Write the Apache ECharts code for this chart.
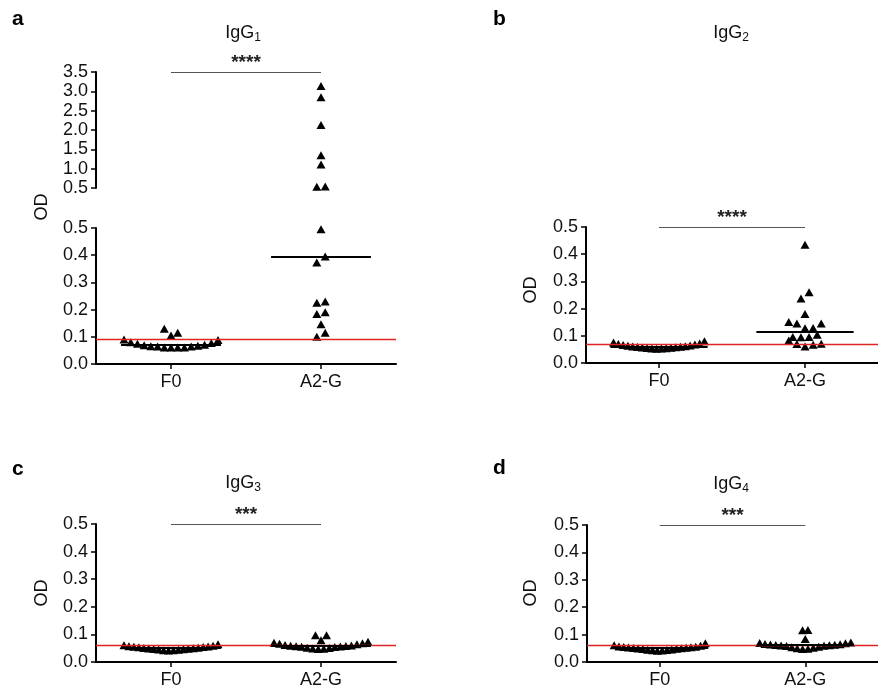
<!DOCTYPE html>
<html>
<head>
    <meta charset="utf-8">
    <script src="https://cdn.jsdelivr.net/npm/echarts@6/dist/echarts.min.js"></script>
</head>
<body style="margin:0">
<div id="main" style="width:878px;height:690px"></div>
<script type="text/javascript">
    // groups on the x axis
    var groups = ['F0', 'A2-G'];

    // OD per animal (order does not matter, they get sorted)
    var igg1F0 = [0.09, 0.08, 0.074, 0.069, 0.065, 0.064, 0.061, 0.061, 0.061, 0.061, 0.064, 0.067, 0.071, 0.077, 0.088, 0.115, 0.105, 0.13];
    var igg1A2G = [0.10, 0.115, 0.146, 0.184, 0.19, 0.23, 0.225, 0.373, 0.395, 0.495, 0.53, 0.54, 1.11, 1.35, 2.13, 2.85, 3.14];
    var igg2F0 = [0.052, 0.053, 0.053, 0.054, 0.055, 0.056, 0.057, 0.058, 0.059, 0.06, 0.061, 0.062, 0.063, 0.064, 0.066, 0.068, 0.07, 0.072, 0.075, 0.08];
    var igg2A2G = [0.061, 0.067, 0.07, 0.071, 0.083, 0.095, 0.096, 0.096, 0.104, 0.128, 0.129, 0.145, 0.145, 0.151, 0.18, 0.237, 0.26, 0.435];
    var igg3F0 = [0.042, 0.043, 0.043, 0.044, 0.045, 0.046, 0.047, 0.048, 0.049, 0.05, 0.051, 0.052, 0.053, 0.054, 0.055, 0.056, 0.057, 0.059, 0.061, 0.064];
    var igg3A2G = [0.047, 0.048, 0.049, 0.051, 0.052, 0.054, 0.055, 0.056, 0.057, 0.058, 0.059, 0.06, 0.062, 0.064, 0.066, 0.068, 0.07, 0.073, 0.079, 0.097, 0.097];
    var igg4F0 = [0.041, 0.042, 0.043, 0.044, 0.045, 0.046, 0.047, 0.048, 0.049, 0.05, 0.051, 0.052, 0.053, 0.054, 0.055, 0.056, 0.057, 0.059, 0.061, 0.068];
    var igg4A2G = [0.047, 0.048, 0.05, 0.052, 0.054, 0.056, 0.058, 0.059, 0.06, 0.061, 0.062, 0.063, 0.064, 0.065, 0.066, 0.068, 0.069, 0.071, 0.084, 0.116, 0.117];

    var cutoffs = [0.09, 0.07, 0.06, 0.06];     // red cut-off lines
    var stars = ['****', '****', '***', '***'];
    var subclass = ['1', '2', '3', '4'];
    var letters = ['a', 'b', 'c', 'd'];
    var lowTicks = [0, 0.5, 0.1];                // min, max, step
    var highTicks = [0.5, 3.5, 0.5];             // upper part of the broken axis in a

    var values = [[igg1F0, igg1A2G], [igg2F0, igg2A2G], [igg3F0, igg3A2G], [igg4F0, igg4A2G]];

    // where each panel sits on the page
    var layout = [
        {left: 96, top: 228, width: 300, height: 136, upper: {top: 72, height: 116}, letter: [12, 19], title: [243, 33], od: [42, 207]},
        {left: 586, top: 227, width: 302, height: 136, letter: [493, 19], title: [731, 33], od: [531, 290]},
        {left: 96, top: 524, width: 300, height: 138, letter: [12, 469], title: [243, 483], od: [42, 593]},
        {left: 587, top: 525, width: 300, height: 137, letter: [493, 468], title: [731, 484], od: [531, 593]}
    ];

    var FONT = '"Liberation Sans", Arial, sans-serif';
    var ROW_PX = 8.3;      // values closer than this (in px) share a row
    var FULL_STEP = 8.4;   // sideways spacing of the triangles
    var MAX_SPREAD = 94;   // widest a row may get
    var HALF_MEDIAN = 0.333;

    function median(arr) {
        var s = arr.slice().sort(function (a, b) { return a - b; });
        var n = s.length;
        return n % 2 ? s[(n - 1) / 2] : (s[n / 2 - 1] + s[n / 2]) / 2;
    }

    // prism style scatter: close values go in one row, lowest in the middle
    function toRows(vals, pxPerUnit) {
        var s = vals.slice().sort(function (a, b) { return a - b; });
        var rows = [], cur = null;
        s.forEach(function (v) {
            if (!cur || (v - cur[0]) * pxPerUnit > ROW_PX) { cur = []; rows.push(cur); }
            cur.push(v);
        });
        return rows;
    }
    function place(rows, center, stepX) {
        var pts = [];
        rows.forEach(function (row) {
            var n = row.length;
            row.forEach(function (v, i) {
                var k = n % 2 ? Math.ceil(i / 2) : Math.floor(i / 2) + 0.5;
                var slot = i % 2 ? k : -k;
                pts.push([center + slot * stepX, v]);
            });
        });
        return pts;
    }

    function xAxisCfg(gi, show) {
        return {
            type: 'value', gridIndex: gi, min: 0.5, max: 2.5, show: show,
            axisLine: {show: true, lineStyle: {color: '#000', width: 2}},
            axisTick: {show: true, customValues: [1, 2], length: 5, lineStyle: {color: '#000', width: 1.5}},
            axisLabel: {
                customValues: [1, 2], margin: 9, fontSize: 18, color: '#111', fontFamily: FONT,
                formatter: function (v) { return v === 1 || v === 2 ? groups[v - 1] : ''; }
            },
            splitLine: {show: false}
        };
    }
    function yAxisCfg(gi, t) {
        return {
            type: 'value', gridIndex: gi, min: t[0], max: t[1], interval: t[2],
            axisLine: {show: true, lineStyle: {color: '#000', width: 2}},
            axisTick: {show: true, length: 5, lineStyle: {color: '#000', width: 1.5}},
            axisLabel: {
                margin: 8, fontSize: 18, color: '#111', fontFamily: FONT,
                formatter: function (v) { return v.toFixed(1); }
            },
            splitLine: {show: false}
        };
    }

    var grids = [], xAxes = [], yAxes = [], series = [], graphics = [];

    layout.forEach(function (lay, i) {
        var gLow = grids.length;
        grids.push({left: lay.left, top: lay.top, width: lay.width, height: lay.height});
        xAxes.push(xAxisCfg(gLow, true));
        yAxes.push(yAxisCfg(gLow, lowTicks));
        var gHigh = null;
        if (lay.upper) {
            gHigh = grids.length;
            grids.push({left: lay.left, top: lay.upper.top, width: lay.width, height: lay.upper.height});
            xAxes.push(xAxisCfg(gHigh, false));
            yAxes.push(yAxisCfg(gHigh, highTicks));
        }
        var pxLow = lay.height / (lowTicks[1] - lowTicks[0]);
        var pxHigh = lay.upper ? lay.upper.height / (highTicks[1] - highTicks[0]) : 1;
        var pxPerX = lay.width / 2;

        var lowPts = [], highPts = [], lines = [];
        lines.push({yAxis: cutoffs[i], lineStyle: {color: '#e02424', width: 1.3, type: 'solid'}});

        values[i].forEach(function (vals, g) {
            var low = vals.filter(function (v) { return !lay.upper || v <= lowTicks[1]; });
            var high = vals.filter(function (v) { return lay.upper && v > lowTicks[1]; });
            var rl = toRows(low, pxLow), rh = toRows(high, pxHigh);
            var maxLen = 1;
            rl.concat(rh).forEach(function (r) { maxLen = Math.max(maxLen, r.length); });
            var step = maxLen > 1 ? Math.min(FULL_STEP, MAX_SPREAD / (maxLen - 1)) : FULL_STEP;
            lowPts = lowPts.concat(place(rl, g + 1, step / pxPerX));
            highPts = highPts.concat(place(rh, g + 1, step / pxPerX));
            var m = median(vals);
            lines.push([
                {coord: [g + 1 - HALF_MEDIAN, m], lineStyle: {color: '#000', width: 2, type: 'solid'}},
                {coord: [g + 1 + HALF_MEDIAN, m]}
            ]);
        });

        var topVal = lay.upper ? highTicks[1] : lowTicks[1];
        var sig = [
            {
                coord: [1, topVal], lineStyle: {color: '#555', width: 1.2, type: 'solid'},
                label: {show: true, position: 'middle', formatter: stars[i], fontSize: 19, fontWeight: 'bold', color: '#222', distance: 0, fontFamily: FONT}
            },
            {coord: [2, topVal]}
        ];
        if (!lay.upper) lines.push(sig);

        series.push({
            type: 'scatter', xAxisIndex: gLow, yAxisIndex: gLow, data: lowPts, clip: false,
            symbol: 'triangle', symbolSize: [9, 8], itemStyle: {color: '#000', opacity: 1},
            markLine: {silent: true, symbol: 'none', label: {show: false}, data: lines}
        });
        if (lay.upper) {
            series.push({
                type: 'scatter', xAxisIndex: gHigh, yAxisIndex: gHigh, data: highPts, clip: false,
                symbol: 'triangle', symbolSize: [9, 8], itemStyle: {color: '#000', opacity: 1},
                markLine: {silent: true, symbol: 'none', label: {show: false}, data: [sig]}
            });
        }

        graphics.push({
            type: 'text', x: lay.letter[0], y: lay.letter[1],
            style: {text: letters[i], fontSize: 21, fontWeight: 'bold', fontFamily: FONT, fill: '#000', align: 'left', verticalAlign: 'middle'}
        });
        graphics.push({
            type: 'text', x: lay.title[0], y: lay.title[1],
            style: {
                text: '{m|IgG}{s|' + subclass[i] + '}', align: 'center', verticalAlign: 'middle',
                rich: {
                    m: {fontSize: 18, fontFamily: FONT, fill: '#111'},
                    s: {fontSize: 12, fontFamily: FONT, fill: '#111', padding: [9, 0, 0, 0]}
                }
            }
        });
        graphics.push({
            type: 'text', x: lay.od[0], y: lay.od[1], rotation: Math.PI / 2,
            style: {text: 'OD', fontSize: 18, fontFamily: FONT, fill: '#111', align: 'center', verticalAlign: 'middle'}
        });
    });

    var myChart = echarts.init(document.getElementById('main'));
    myChart.setOption({
        animation: false,
        backgroundColor: '#fff',
        textStyle: {fontFamily: FONT},
        grid: grids,
        xAxis: xAxes,
        yAxis: yAxes,
        series: series,
        graphic: graphics
    });
</script>
</body>
</html>
